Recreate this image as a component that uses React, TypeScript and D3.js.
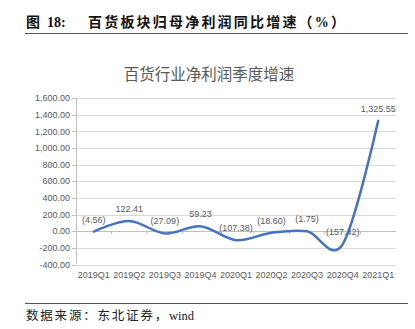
import React from "react";
import * as d3 from "d3";

const categories = ["2019Q1", "2019Q2", "2019Q3", "2019Q4", "2020Q1", "2020Q2", "2020Q3", "2020Q4", "2021Q1"];
const values = [-4.56, 122.41, -27.09, 59.23, -107.38, -18.6, -1.75, -157.42, 1325.55];
const yTicks = [-400, -200, 0, 200, 400, 600, 800, 1000, 1200, 1400, 1600];

const fmt = (v: number) => {
  const s = d3.format(",.2f")(Math.abs(v));
  return v < 0 ? `(${s})` : s;
};
const fmtAxis = (v: number) => (v < 0 ? "-" + d3.format(",.2f")(-v) : d3.format(",.2f")(v));

export default function App() {
  const W = 415, H = 329;
  const left = 76, right = 396, top = 98, bottom = 264.5;
  const x = d3.scaleBand<string>().domain(categories).range([left, right]);
  const y = d3.scaleLinear().domain([-400, 1600]).range([bottom, top]);
  const cx = (c: string) => (x(c) as number) + x.bandwidth() / 2;
  const line = d3
    .line<number>()
    .x((_, i) => cx(categories[i]))
    .y((d) => y(d))
    .curve(d3.curveCardinal.tension(0));
  const sans = "'Liberation Sans', Arial, sans-serif";
  const serif = "'Liberation Serif', 'Noto Sans CJK SC', serif";
  const gray = "#595959";
  return (
    <svg width={W} height={H} style={{ position: "absolute", left: 0, top: 0, background: "#fff" }}>
      <text y={27} fontFamily={serif} fontWeight="bold" fontSize={14} fill="#111">
        <tspan x={26}>图</tspan>
        <tspan x={47}>18:</tspan>
        <tspan x={88} letterSpacing={2.2}>百货板块归母净利润同比增速（%）</tspan>
      </text>
      <line x1={25} x2={408} y1={33.5} y2={33.5} stroke="#555" strokeWidth={1} />
      <text x={209} y={80} textAnchor="middle" fontFamily="'Noto Sans CJK SC', sans-serif" fontSize={15.5} fill={gray}>
        百货行业净利润季度增速
      </text>
      {yTicks.map((t) => (
        <g key={t}>
          <line x1={left} x2={right} y1={Math.round(y(t)) + 0.5} y2={Math.round(y(t)) + 0.5} stroke={t === 0 ? "#bfbfbf" : "#d9d9d9"} strokeWidth={1} />
          <line x1={left - 4} x2={left} y1={Math.round(y(t)) + 0.5} y2={Math.round(y(t)) + 0.5} stroke="#bfbfbf" />
          <text x={left - 6} y={y(t) + 3.2} textAnchor="end" fontFamily={sans} fontSize={9} fill={gray}>
            {fmtAxis(t)}
          </text>
        </g>
      ))}
      <line x1={left + 0.5} x2={left + 0.5} y1={top} y2={bottom} stroke="#bfbfbf" />
      {categories.map((c, i) =>
        i > 0 ? (
          <line key={"t" + c} x1={x(c) as number} x2={x(c) as number} y1={y(0)} y2={y(0) + 3} stroke="#bfbfbf" />
        ) : null
      )}
      {categories.map((c) => (
        <text key={c} x={cx(c)} y={278} textAnchor="middle" fontFamily={sans} fontSize={9} fill={gray}>
          {c}
        </text>
      ))}
      <path d={line(values) || ""} fill="none" stroke="#4472C4" strokeWidth={2.5} strokeLinecap="round" />
      {values.map((v, i) => (
        <text key={i} x={cx(categories[i])} y={y(v) - 9} textAnchor="middle" fontFamily={sans} fontSize={9} fill={gray}>
          {fmt(v)}
        </text>
      ))}
      <line x1={25} x2={408} y1={303.5} y2={303.5} stroke="#555" strokeWidth={1} />
      <text x={26} y={320} fontFamily={serif} fontSize={12.5} fill="#222">
        <tspan letterSpacing={1.8}>数据来源：东北证券，</tspan>
        <tspan>wind</tspan>
      </text>
    </svg>
  );
}
